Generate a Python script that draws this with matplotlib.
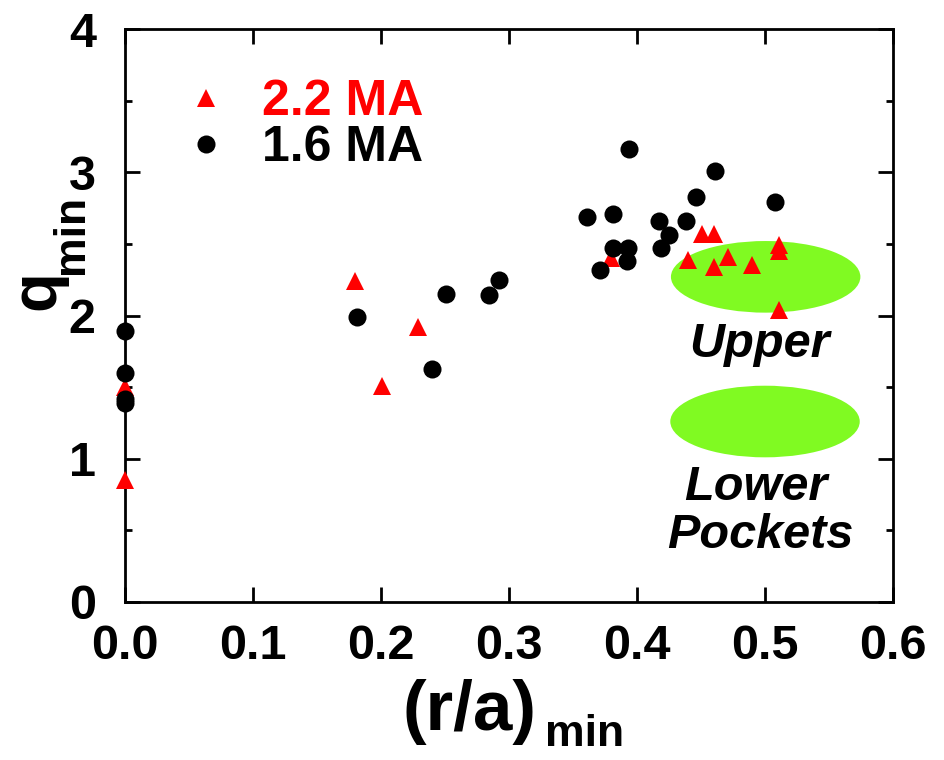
import numpy as np
import matplotlib
matplotlib.use("Agg")
import matplotlib.pyplot as plt
from matplotlib.patches import Ellipse
from matplotlib.ticker import MultipleLocator

#---Fonts
plt.rcParams['font.family'] = ['Liberation Sans', 'DejaVu Sans']
plt.rcParams['font.weight'] = 'bold'

#---Data
# 1.6 MA shots (black circles)
ra_16 = [0.0, 0.0, 0.0, 0.0, 0.181, 0.240, 0.251, 0.284, 0.292,
         0.361, 0.371, 0.381, 0.381, 0.392, 0.393, 0.394, 0.417, 0.419,
         0.425, 0.438, 0.446, 0.461, 0.508]
q_16 = [1.89, 1.60, 1.42, 1.39, 1.99, 1.63, 2.15, 2.14, 2.25,
        2.69, 2.32, 2.71, 2.47, 2.38, 2.47, 3.16, 2.66, 2.47,
        2.56, 2.66, 2.83, 3.01, 2.79]

# 2.2 MA shots (red triangles)
ra_22 = [0.0, 0.0, 0.180, 0.201, 0.229, 0.380, 0.440, 0.451, 0.460,
         0.460, 0.471, 0.490, 0.511, 0.511, 0.511]
q_22 = [0.85, 1.50, 2.24, 1.51, 1.92, 2.40, 2.39, 2.57, 2.57,
        2.34, 2.41, 2.35, 2.49, 2.45, 2.04]

# shaded pocket regions: (centre x, centre y, width, height)
pocket_names = ["Upper", "Lower"]
pocket_x = [0.5005, 0.5]
pocket_y = [2.27, 1.26]
pocket_w = [0.148, 0.148]
pocket_h = [0.50, 0.50]

x_ticks = [0.0, 0.1, 0.2, 0.3, 0.4, 0.5, 0.6]
y_ticks = [0, 1, 2, 3, 4]

#---Plot
fig = plt.figure(figsize=(9.44, 7.6), dpi=100)
ax = fig.add_axes([0.1324, 0.2079, 0.8136, 0.7539])

for px, py, pw, ph in zip(pocket_x, pocket_y, pocket_w, pocket_h):
    ax.add_patch(Ellipse((px, py), pw, ph, facecolor='#80fa22',
                         edgecolor='none', zorder=1))

ax.plot(ra_22, q_22, linestyle='none', marker='^', markersize=13,
        color='#ff0000', markeredgewidth=0, zorder=3, clip_on=False,
        label='2.2 MA')
ax.plot(ra_16, q_16, linestyle='none', marker='o', markersize=13,
        color='black', markeredgewidth=0, zorder=4, clip_on=False,
        label='1.6 MA')

ax.text(0.496, 1.71, 'Upper', style='italic', fontsize=35,
        ha='center', va='baseline')
ax.text(0.493, 0.712, 'Lower', style='italic', fontsize=35,
        ha='center', va='baseline')
ax.text(0.496, 0.377, 'Pockets', style='italic', fontsize=35,
        ha='center', va='baseline')

leg = ax.legend(loc='upper left', bbox_to_anchor=(0.073, 0.912),
                frameon=False, fontsize=36, handlelength=1.0,
                handletextpad=0.62, borderpad=0, borderaxespad=0,
                labelspacing=-0.0, labelcolor=['#ff0000', 'black'])

ax.set_xlim(0, 0.6)
ax.set_ylim(0, 4)
ax.set_xticks(x_ticks)
ax.set_xticklabels(['%.1f' % v for v in x_ticks])
ax.set_yticks(y_ticks)
ax.yaxis.set_minor_locator(MultipleLocator(0.5))

ax.tick_params(axis='both', which='both', direction='in',
               top=True, right=True, width=2, colors='black')
ax.tick_params(axis='both', which='major', length=11, labelsize=35)
ax.tick_params(axis='x', which='major', pad=16)
ax.tick_params(axis='y', which='major', pad=21)
ax.tick_params(axis='y', which='minor', length=5)
for side in ax.spines.values():
    side.set_linewidth(2)

# axis titles with a deep subscript, set as separate pieces
fig.text(0.4269, 0.0395, '(r/a)', fontsize=51, ha='left', va='baseline')
fig.text(0.5773, 0.018, 'min', fontsize=32, ha='left', va='baseline')
fig.text(0.0572, 0.592, 'q', fontsize=47, rotation=90,
         rotation_mode='anchor', ha='left', va='baseline')
fig.text(0.0879, 0.6395, 'min', fontsize=32, rotation=90,
         rotation_mode='anchor', ha='left', va='baseline')

fig.savefig('out.png', dpi=100)
